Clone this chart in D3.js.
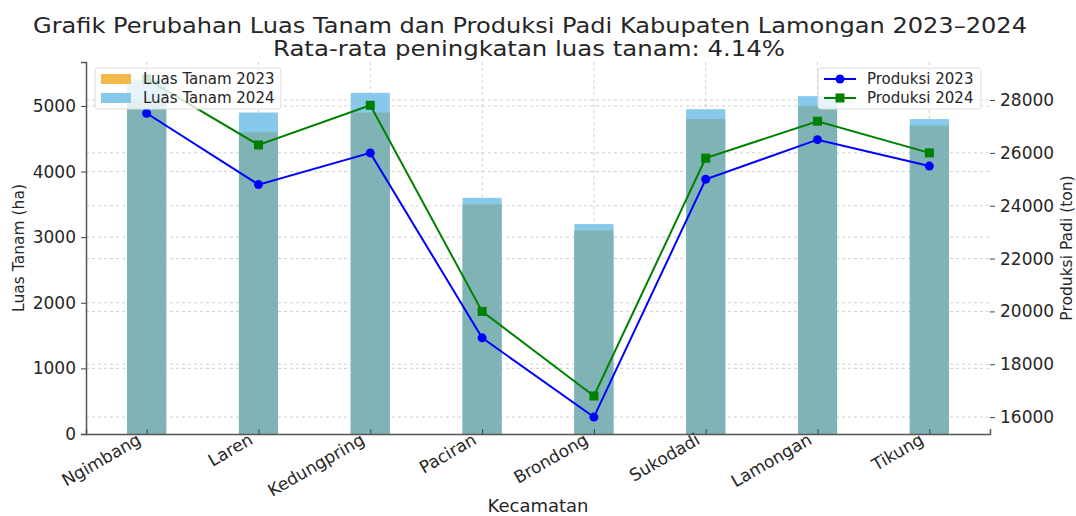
<!DOCTYPE html>
<html>
<head>
<meta charset="utf-8">
<script src="https://cdn.jsdelivr.net/npm/d3@7"></script>
<style>
  body { margin: 0; background: #fff; }
  text { font-family: "DejaVu Sans", sans-serif; fill: #262626; }
</style>
</head>
<body>
<div class="chart"></div>
<script>
// data
const kecamatan = ["Ngimbang", "Laren", "Kedungpring", "Paciran", "Brondong", "Sukodadi", "Lamongan", "Tikung"]
const luas2023 = [5100, 4600, 4900, 3500, 3100, 4800, 5000, 4700]
const luas2024 = [5400, 4900, 5200, 3600, 3200, 4950, 5150, 4800]
const produksi2023 = [27500, 24800, 26000, 19000, 16000, 25000, 26500, 25500]
const produksi2024 = [28800, 26300, 27800, 20000, 16800, 25800, 27200, 26000]
const ticksLuas = [0, 1000, 2000, 3000, 4000, 5000]
const ticksProduksi = [16000, 18000, 20000, 22000, 24000, 26000, 28000]

const W = 1076, H = 516
const margin = { left: 86, right: 86, top: 62, bottom: 82 }

const svg = d3.select(".chart")
    .append("svg")
    .attr("width", W)
    .attr("height", H)

const x = d3.scaleLinear()
    .domain([-0.5425, kecamatan.length - 1 + 0.5425])
    .range([margin.left, W - margin.right])
const yL = d3.scaleLinear().domain([0, 5670]).range([H - margin.bottom, margin.top])
const yR = d3.scaleLinear().domain([15360, 29440]).range([H - margin.bottom, margin.top])
const barW = x(0.35) - x(0)

// grid
const grid = svg.append("g").attr("class", "grid")
    .attr("stroke", "#c8c8c8")
    .attr("stroke-dasharray", "3,3")
    .attr("stroke-width", 0.9)
grid.selectAll(".gl")
    .data(ticksLuas.slice(1))
    .join("line")
    .attr("x1", margin.left).attr("x2", W - margin.right)
    .attr("y1", d => yL(d)).attr("y2", d => yL(d))
grid.selectAll(".gr")
    .data(ticksProduksi)
    .join("line")
    .attr("x1", margin.left).attr("x2", W - margin.right)
    .attr("y1", d => yR(d)).attr("y2", d => yR(d))
grid.selectAll(".gx")
    .data(kecamatan)
    .join("line")
    .attr("x1", (_, i) => x(i)).attr("x2", (_, i) => x(i))
    .attr("y1", margin.top).attr("y2", H - margin.bottom)

// bars
svg.append("g")
    .selectAll("rect")
    .data(luas2024)
    .join("rect")
    .attr("x", (_, i) => x(i) - barW / 2)
    .attr("width", barW)
    .attr("y", d => yL(d))
    .attr("height", d => yL(0) - yL(d))
    .attr("fill", "#88c8ea")

svg.append("g")
    .selectAll("rect")
    .data(luas2023)
    .join("rect")
    .attr("x", (_, i) => x(i) - barW / 2)
    .attr("width", barW)
    .attr("y", d => yL(d))
    .attr("height", d => yL(0) - yL(d))
    .attr("fill", "#7fb3b5")

// lines
const garis = d3.line()
    .x((_, i) => x(i))
    .y(d => yR(d))

svg.append("path")
    .datum(produksi2023)
    .attr("d", garis)
    .attr("fill", "none")
    .attr("stroke", "#0000ff")
    .attr("stroke-width", 2)
svg.append("g")
    .selectAll("circle")
    .data(produksi2023)
    .join("circle")
    .attr("cx", (_, i) => x(i))
    .attr("cy", d => yR(d))
    .attr("r", 4.5)
    .attr("fill", "#0000ff")

svg.append("path")
    .datum(produksi2024)
    .attr("d", garis)
    .attr("fill", "none")
    .attr("stroke", "#008000")
    .attr("stroke-width", 2)
svg.append("g")
    .selectAll("rect")
    .data(produksi2024)
    .join("rect")
    .attr("x", (_, i) => x(i) - 4.5)
    .attr("y", d => yR(d) - 4.5)
    .attr("width", 9)
    .attr("height", 9)
    .attr("fill", "#008000")

// axes
const axLeft = svg.append("g")
    .attr("transform", `translate(${margin.left},0)`)
    .call(d3.axisLeft(yL).tickValues(ticksLuas).tickSize(5).tickPadding(5).tickFormat(d3.format("d")))
const axRight = svg.append("g")
    .attr("transform", `translate(${W - margin.right},0)`)
    .call(d3.axisRight(yR).tickValues(ticksProduksi).tickSize(5).tickPadding(5).tickFormat(d3.format("d")))
axRight.select(".domain").remove()
const axBottom = svg.append("g")
    .attr("transform", `translate(0,${H - margin.bottom})`)
    .call(d3.axisBottom(x).tickValues(d3.range(kecamatan.length)).tickSize(-5).tickFormat(i => kecamatan[i]))

;[axLeft, axRight, axBottom].forEach(a => {
    a.selectAll("text").attr("font-size", 17).attr("font-family", "DejaVu Sans").attr("fill", "#262626")
    a.selectAll("line").attr("stroke", "#444")
    a.select(".domain").attr("stroke", "#555").attr("stroke-width", 1.5)
})
axBottom.selectAll("text")
    .attr("text-anchor", "end")
    .attr("y", 0)
    .attr("dy", 0)
    .attr("transform", "translate(-5,9) rotate(-30)")

// labels
svg.append("text")
    .attr("transform", `translate(24,${(margin.top + H - margin.bottom) / 2}) rotate(-90)`)
    .attr("text-anchor", "middle")
    .attr("font-size", 15.5)
    .text("Luas Tanam (ha)")
svg.append("text")
    .attr("transform", `translate(1072,${(margin.top + H - margin.bottom) / 2}) rotate(-90)`)
    .attr("text-anchor", "middle")
    .attr("font-size", 15.5)
    .text("Produksi Padi (ton)")
svg.append("text")
    .attr("x", 538)
    .attr("y", 512)
    .attr("text-anchor", "middle")
    .attr("font-size", 17)
    .attr("textLength", 101)
    .attr("lengthAdjust", "spacingAndGlyphs")
    .text("Kecamatan")

svg.append("text")
    .attr("x", 530).attr("y", 33)
    .attr("text-anchor", "middle")
    .attr("font-size", 20.5)
    .attr("textLength", 994)
    .attr("lengthAdjust", "spacingAndGlyphs")
    .text("Grafik Perubahan Luas Tanam dan Produksi Padi Kabupaten Lamongan 2023–2024")
svg.append("text")
    .attr("x", 529).attr("y", 56)
    .attr("text-anchor", "middle")
    .attr("font-size", 20.5)
    .attr("textLength", 512)
    .attr("lengthAdjust", "spacingAndGlyphs")
    .text("Rata-rata peningkatan luas tanam: 4.14%")

// legend kiri
const legKiri = svg.append("g").attr("transform", "translate(95,68)")
legKiri.append("rect")
    .attr("width", 186).attr("height", 41).attr("rx", 3)
    .attr("fill", "#fff").attr("fill-opacity", 0.8)
    .attr("stroke", "#ddd")
legKiri.selectAll(".sw")
    .data([["Luas Tanam 2023", "#f0b94a"], ["Luas Tanam 2024", "#88c8ea"]])
    .join("rect")
    .attr("x", 6).attr("y", (_, i) => 6 + i * 19)
    .attr("width", 30).attr("height", 10)
    .attr("fill", d => d[1])
legKiri.selectAll("text")
    .data(["Luas Tanam 2023", "Luas Tanam 2024"])
    .join("text")
    .attr("x", 48).attr("y", (_, i) => 16 + i * 19)
    .attr("font-size", 15)
    .text(d => d)

// legend kanan
const legKanan = svg.append("g").attr("transform", "translate(818,68)")
legKanan.append("rect")
    .attr("width", 163).attr("height", 41).attr("rx", 3)
    .attr("fill", "#fff").attr("fill-opacity", 0.8)
    .attr("stroke", "#ddd")
const itemKanan = legKanan.selectAll(".it")
    .data([["Produksi 2023", "#0000ff", "circle"], ["Produksi 2024", "#008000", "square"]])
    .join("g")
    .attr("transform", (_, i) => `translate(0,${11 + i * 19})`)
itemKanan.append("line")
    .attr("x1", 6).attr("x2", 38)
    .attr("stroke", d => d[1]).attr("stroke-width", 2)
itemKanan.filter(d => d[2] == "circle").append("circle")
    .attr("cx", 22).attr("r", 4.5).attr("fill", d => d[1])
itemKanan.filter(d => d[2] == "square").append("rect")
    .attr("x", 17.5).attr("y", -4.5).attr("width", 9).attr("height", 9).attr("fill", d => d[1])
itemKanan.append("text")
    .attr("x", 49).attr("y", 5)
    .attr("font-size", 15)
    .text(d => d[0])
</script>
</body>
</html>
